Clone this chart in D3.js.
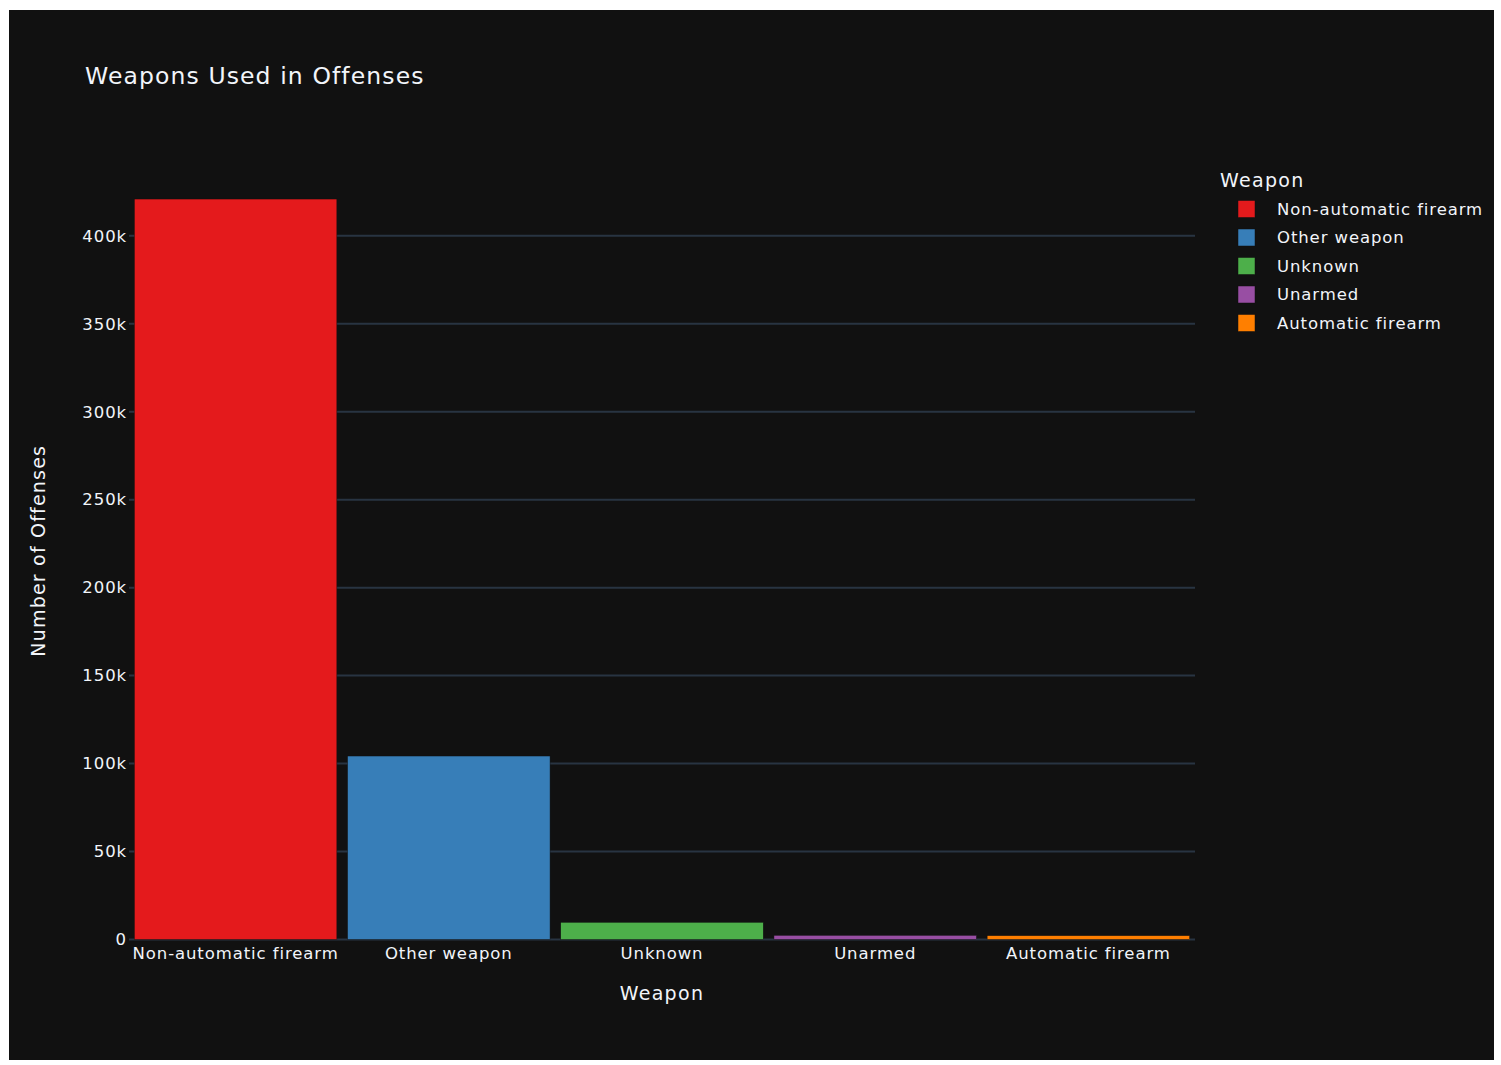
<!DOCTYPE html>
<html>
<head>
<meta charset="utf-8">
<script src="https://cdn.jsdelivr.net/npm/d3@7"></script>
<style>
  body { margin: 0; background: #ffffff; }
  svg { position: absolute; left: 9px; top: 10px; }
  text { font-family: "DejaVu Sans", Verdana, sans-serif; fill: #f2f5fa; }
</style>
</head>
<body>
<svg id="chart"></svg>
<script>
// data
const weapons = ["Non-automatic firearm", "Other weapon", "Unknown", "Unarmed", "Automatic firearm"];
const offenses = [420900, 104300, 9800, 2400, 2200];
const colors = ["#e41a1c", "#377eb8", "#4daf4a", "#984ea3", "#ff7f00"];
const yTicks = [0, 50000, 100000, 150000, 200000, 250000, 300000, 350000, 400000];

const width = 1485, height = 1050;
const margin = {top: 152, right: 299, bottom: 120.5, left: 120};

const svg = d3.select("#chart")
  .attr("width", width)
  .attr("height", height);

svg.append("rect")
  .attr("width", width)
  .attr("height", height)
  .attr("fill", "#111111");

const x = d3.scaleBand()
  .domain(weapons)
  .range([margin.left, width - margin.right])
  .paddingInner(0.05)
  .paddingOuter(0.025);

const y = d3.scaleLinear()
  .domain([0, d3.max(offenses) * 1.05])
  .range([height - margin.bottom, margin.top]);

const color = d3.scaleOrdinal().domain(weapons).range(colors);

// grid lines
svg.append("g")
  .selectAll("line")
  .data(yTicks)
  .join("line")
  .attr("x1", margin.left)
  .attr("x2", width - margin.right)
  .attr("y1", d => y(d))
  .attr("y2", d => y(d))
  .attr("stroke", "#283442")
  .attr("stroke-width", 2);

// y axis labels
const yAxis = svg.append("g")
  .attr("transform", `translate(${margin.left},0)`)
  .call(d3.axisLeft(y).tickValues(yTicks).tickSize(0).tickPadding(2)
    .tickFormat(d => d === 0 ? "0" : d3.format("d")(d / 1000) + "k"));
yAxis.select(".domain").remove();
yAxis.selectAll("text")
  .style("font-size", "16.5px")
  .style("letter-spacing", "0.9px")
  .style("font-family", "\"DejaVu Sans\", Verdana, sans-serif")
  .attr("fill", "#f2f5fa");

// bars
const data = weapons.map((w, i) => ({weapon: w, count: offenses[i]}));
svg.append("g")
  .selectAll("rect")
  .data(data)
  .join("rect")
  .attr("x", d => x(d.weapon))
  .attr("width", x.bandwidth())
  .attr("y", d => y(d.count))
  .attr("height", d => y(0) - y(d.count))
  .attr("fill", d => color(d.weapon))
  .attr("stroke", "#111111")
  .attr("stroke-width", 0.5);

// x axis labels
const xAxis = svg.append("g")
  .attr("transform", `translate(0,${height - margin.bottom})`)
  .call(d3.axisBottom(x).tickSize(0).tickPadding(8));
xAxis.select(".domain").remove();
xAxis.selectAll("text")
  .style("font-size", "16.5px")
  .style("letter-spacing", "0.9px")
  .style("font-family", "\"DejaVu Sans\", Verdana, sans-serif")
  .attr("fill", "#f2f5fa");

// titles
svg.append("text")
  .text("Weapons Used in Offenses")
  .attr("x", 76)
  .attr("y", 74)
  .style("font-size", "23.5px")
  .style("letter-spacing", "1.1px");

svg.append("text")
  .text("Weapon")
  .attr("x", (margin.left + width - margin.right) / 2)
  .attr("y", 990)
  .attr("text-anchor", "middle")
  .style("font-size", "19px")
  .style("letter-spacing", "1.3px");

svg.append("text")
  .text("Number of Offenses")
  .attr("transform", `translate(36,${(margin.top + height - margin.bottom) / 2}) rotate(-90)`)
  .attr("text-anchor", "middle")
  .style("font-size", "19px")
  .style("letter-spacing", "1.2px");

// legend
const legend = svg.append("g").attr("transform", "translate(1211,0)");
legend.append("text")
  .text("Weapon")
  .attr("x", 0)
  .attr("y", 177)
  .style("font-size", "19px")
  .style("letter-spacing", "1.3px");

const items = legend.selectAll("g.item")
  .data(weapons)
  .join("g")
  .attr("class", "item")
  .attr("transform", (d, i) => `translate(0,${199 + i * 28.5})`);

items.append("rect")
  .attr("x", 18)
  .attr("y", -8.5)
  .attr("width", 17)
  .attr("height", 17)
  .attr("fill", d => color(d))
  .attr("stroke", "#111111")
  .attr("stroke-width", 0.5);

items.append("text")
  .text(d => d)
  .attr("x", 57)
  .attr("y", 0)
  .attr("dy", "0.35em")
  .style("font-size", "16.5px")
  .style("letter-spacing", "0.9px");
</script>
</body>
</html>
